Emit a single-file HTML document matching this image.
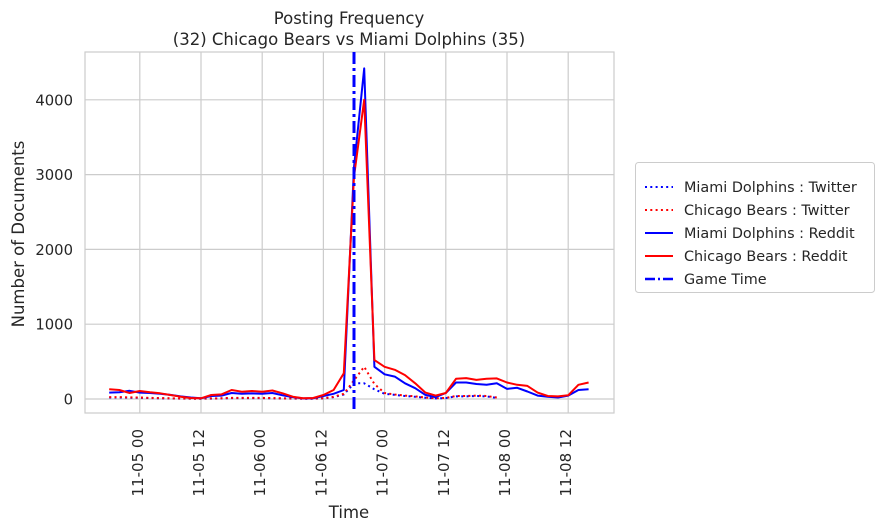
<!DOCTYPE html>
<html><head><meta charset="utf-8"><style>
body{margin:0;background:#fff;}
svg{display:block;font-family:"DejaVu Sans","Liberation Sans",sans-serif;}
</style></head><body>
<svg id="chart" width="883" height="530" viewBox="0 0 883 530" xmlns="http://www.w3.org/2000/svg"></svg>
<script>
// hours since 11-05 00:00, every 2 hours
const hours = []; for (let i = 0; i < 48; i++) hours.push(-6 + 2 * i);
const chiReddit = [130,120,80,107,89,76,53,31,13,9,53,62,120,98,107,98,113,76,31,9,13,53,120,343,2970,4000,520,430,390,320,210,85,45,80,270,280,255,270,275,220,190,175,85,40,35,50,190,220];
const miaReddit = [85,90,110,85,80,70,55,35,20,10,40,45,80,70,75,70,80,50,25,8,10,40,70,120,3100,4420,430,330,300,210,145,55,25,80,220,220,200,190,210,135,150,100,45,30,20,45,120,130];
const chiTwitter = [25,25,22,20,15,12,10,8,5,5,8,10,15,15,15,15,12,10,8,5,5,10,30,70,250,430,200,80,60,45,35,20,10,15,40,40,45,40,20];
const miaTwitter = [20,20,18,16,12,10,8,6,4,4,6,8,12,12,12,12,10,8,6,4,4,8,25,60,210,210,130,70,55,40,30,18,8,12,35,35,40,35,15];
const gameHour = 42.0;
const xTickHours = [0,12,24,36,48,60,72,84];
const xTickLabels = ["11-05 00","11-05 12","11-06 00","11-06 12","11-07 00","11-07 12","11-08 00","11-08 12"];
const yTicks = [0,1000,2000,3000,4000];

const svg = document.getElementById('chart');
const NS = 'http://www.w3.org/2000/svg';
const L = 85, R = 614, T = 52, B = 413;
const xs = h => 139.8 + h * 5.1;
const ys = v => 399 - v * 0.0748;
function mk(tag, attrs, parent) {
  const e = document.createElementNS(NS, tag);
  for (const k in attrs) e.setAttribute(k, attrs[k]);
  (parent || svg).appendChild(e);
  return e;
}
const grid = mk('g', {});


xTickHours.forEach((h, i) => {
  const gl = mk('line', {x1: xs(h), x2: xs(h), y1: T, y2: B, stroke: '#cccccc', 'stroke-width': 1.2}, grid);
  
  
  const t = mk('text', {x: 0, y: 0, 'font-size': 15, fill: '#262626', 'text-anchor': 'end', 'dominant-baseline': 'central', transform: `translate(${xs(h) - 2},${B + 16}) rotate(-90)`});
  t.textContent = xTickLabels[i];
  
  
});
yTicks.forEach(v => {
  const gl = mk('line', {x1: L, x2: R, y1: ys(v), y2: ys(v), stroke: '#cccccc', 'stroke-width': 1.2}, grid);
  
  
  const t = mk('text', {x: L - 12, y: ys(v) + 5.5, 'font-size': 14.8, fill: '#262626', 'text-anchor': 'end'});
  t.textContent = v;
  
  
});
const frame = mk('rect', {x: L, y: T, width: R - L, height: B - T, fill: 'none', stroke: '#cccccc', 'stroke-width': 1.2});



function series(vals, color, dash, name) {
  const pts = vals.map((v, i) => xs(hours[i]).toFixed(1) + ',' + ys(v).toFixed(1)).join(' ');
  const p = mk('polyline', {points: pts, fill: 'none', stroke: color, 'stroke-width': 2, 'stroke-dasharray': dash, 'stroke-linejoin': 'round'});
  
  
}
series(miaTwitter, '#0000ff', '2,3.3', 'miami-twitter-line');
series(chiTwitter, '#ff0000', '2,3.3', 'chicago-twitter-line');
series(miaReddit, '#0000ff', 'none', 'miami-reddit-line');
series(chiReddit, '#ff0000', 'none', 'chicago-reddit-line');
const gl = mk('line', {x1: xs(gameHour), x2: xs(gameHour), y1: T, y2: B, stroke: '#0000ff', 'stroke-width': 3, 'stroke-dasharray': '12,4,3,4'});


</script>
<svg style="position:absolute;left:0;top:0" width="883" height="530" xmlns="http://www.w3.org/2000/svg" font-family="DejaVu Sans, Liberation Sans, sans-serif">
  <text x="349" y="24" font-size="16.5" fill="#262626" text-anchor="middle">Posting Frequency</text>
  <text x="349" y="45" font-size="16.5" fill="#262626" text-anchor="middle">(32) Chicago Bears vs Miami Dolphins (35)</text>
  <text x="349" y="518" font-size="16.5" fill="#262626" text-anchor="middle">Time</text>
  <text x="0" y="0" font-size="16.5" fill="#262626" text-anchor="middle" transform="translate(24,234) rotate(-90)">Number of Documents</text>
  <g>
    <rect x="635.5" y="162.5" width="239" height="130" rx="3" fill="#fff" stroke="#cccccc"/>
    <g><line x1="645" x2="673" y1="187" y2="187" stroke="#0000ff" stroke-width="2" stroke-dasharray="2,3.3"/><text x="684" y="192" font-size="14.4" fill="#262626">Miami Dolphins : Twitter</text></g>
    <g><line x1="645" x2="673" y1="210" y2="210" stroke="#ff0000" stroke-width="2" stroke-dasharray="2,3.3"/><text x="684" y="215" font-size="14.4" fill="#262626">Chicago Bears : Twitter</text></g>
    <g><line x1="645" x2="673" y1="233" y2="233" stroke="#0000ff" stroke-width="2"/><text x="684" y="238" font-size="14.4" fill="#262626">Miami Dolphins : Reddit</text></g>
    <g><line x1="645" x2="673" y1="256" y2="256" stroke="#ff0000" stroke-width="2"/><text x="684" y="261" font-size="14.4" fill="#262626">Chicago Bears : Reddit</text></g>
    <g><line x1="645" x2="673" y1="279" y2="279" stroke="#0000ff" stroke-width="2.5" stroke-dasharray="10,3,2,3"/><text x="684" y="284" font-size="14.4" fill="#262626">Game Time</text></g>
  </g>
</svg>
</body></html>
